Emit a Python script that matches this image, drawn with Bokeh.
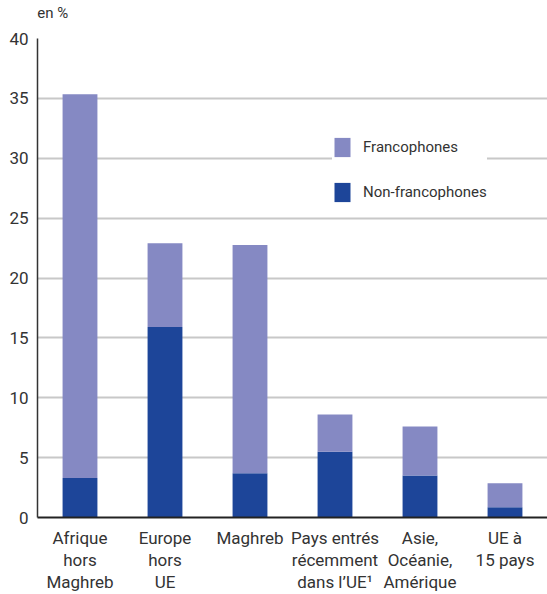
from bokeh.plotting import figure
from bokeh.models import Range1d, FixedTicker, Legend, LegendItem, ColumnDataSource, LinearAxis
from bokeh.embed import file_html
from bokeh.resources import INLINE

categories = ["Afrique\nhors\nMaghreb", "Europe\nhors\nUE", "Maghreb",
              "Pays entrés\nrécemment\ndans l\u2019UE\u00b9", "Asie,\nOcéanie,\nAmérique", "UE à\n15 pays"]
non_francophones = [3.3, 15.9, 3.7, 5.5, 3.5, 0.85]
francophones = [32.05, 7.0, 19.05, 3.1, 4.1, 2.0]
y_ticks = [0, 5, 10, 15, 20, 25, 30, 35, 40]
unit_label = "en %"

FONT = "Roboto"
TXT = "#333333"
LIGHT = "#8589C3"
DARK = "#1D4599"

xs = list(range(len(categories)))
src = ColumnDataSource(dict(x=xs, non=non_francophones, fra=francophones))

p = figure(width=547, height=594, x_range=Range1d(-0.5, 5.5), y_range=Range1d(0, 40),
           output_backend="svg", toolbar_location=None,
           min_border_left=37, min_border_right=0, min_border_top=38, min_border_bottom=77)
p.outline_line_color = None
p.background_fill_color = "white"

rs = p.vbar_stack(["non", "fra"], x="x", width=0.41, source=src,
                  color=[DARK, LIGHT], line_color=None)

p.xgrid.grid_line_color = None
p.ygrid.ticker = FixedTicker(ticks=[5, 10, 15, 20, 25, 30, 35])
p.ygrid.grid_line_color = "#c8c8c8"
p.ygrid.grid_line_width = 2

p.yaxis.ticker = FixedTicker(ticks=y_ticks)
p.yaxis.major_tick_line_color = None
p.yaxis.minor_tick_line_color = None
p.yaxis.major_tick_out = 0
p.yaxis.minor_tick_out = 0
p.yaxis.axis_line_color = "#333333"
p.yaxis.axis_line_width = 1.5
p.yaxis.major_label_standoff = 9
p.yaxis.major_label_text_font = FONT
p.yaxis.major_label_text_font_size = "17px"
p.yaxis.major_label_text_color = TXT

p.xaxis.ticker = FixedTicker(ticks=xs)
p.xaxis.major_label_overrides = {i: c for i, c in enumerate(categories)}
p.xaxis.major_tick_line_color = None
p.xaxis.minor_tick_line_color = None
p.xaxis.major_tick_out = 0
p.xaxis.minor_tick_out = 0
p.xaxis.axis_line_color = "#222222"
p.xaxis.axis_line_width = 2
p.xaxis.major_label_standoff = 10
p.xaxis.major_label_text_font = FONT
p.xaxis.major_label_text_font_size = "17px"
p.xaxis.major_label_text_line_height = 1.1
p.xaxis.major_label_text_color = TXT

# unit label above the y axis, drawn as a tick label of an axis placed above
top_axis = LinearAxis(ticker=FixedTicker(ticks=[-0.32]),
                      major_label_overrides={-0.32: unit_label},
                      axis_line_color=None, major_tick_line_color=None, minor_tick_line_color=None,
                      major_tick_out=0, minor_tick_out=0, major_label_standoff=17,
                      major_label_text_font=FONT, major_label_text_font_size="15px",
                      major_label_text_color=TXT)
p.add_layout(top_axis, "above")

legend = Legend(items=[LegendItem(label="Francophones", renderers=[rs[1]]),
                       LegendItem(label="Non-francophones", renderers=[rs[0]])],
                location=(295, 313), orientation="vertical",
                glyph_width=20, glyph_height=24, label_height=24, spacing=21,
                label_standoff=11, padding=3, margin=0,
                border_line_color=None, background_fill_color="white", background_fill_alpha=1,
                label_text_font=FONT, label_text_font_size="15px", label_text_color=TXT)
p.add_layout(legend, "center")

open("out.html", "w").write(file_html(p, INLINE))
